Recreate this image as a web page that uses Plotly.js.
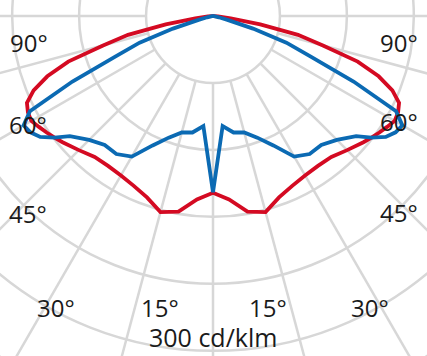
<!DOCTYPE html>
<html><head><meta charset="utf-8">
<script src="https://cdn.plot.ly/plotly-3.0.1.min.js"></script>
<style>
html,body{margin:0;padding:0;overflow:hidden;width:427px;height:356px;background:#fff}
#wrap{position:relative;width:427px;height:356px;overflow:hidden}
#plot{position:absolute;left:-211px;top:-408px;width:848px;height:848px}
</style></head><body><div id="wrap"><div id="plot"></div></div>
<script>
// angles in degrees from nadir (negative = left half)
const angles = [-90,-87.5,-85,-82.5,-80,-77.5,-75,-72.5,-70,-67.5,-65,-62.5,-60,-57.5,-55,-52.5,-50,-45,-40,-35,-30,-25,-20,-15,-10,-5,
  0,5,10,15,20,25,30,35,40,45,50,52.5,55,57.5,60,62.5,65,67.5,70,72.5,75,77.5,80,82.5,85,87.5,90];
// intensity, cd/klm
const redValues = [0,1,4.5,16,43,78,102,136,158,174,184,187,188,185,182,179,176,170,165,164,165,168,173,182,178,165,
  158.5,165,178,182,173,168,165,164,165,170,176,179,182,185,188,187,184,174,158,136,102,78,43,16,4.5,1,0];
const blueValues = [0,0.2,0.5,1,1.8,5.4,13.4,37.6,70,94,139,185,196,194,189,179,167.5,157,151,151,145.5,128,116,108,106,99,
  158,99,106,108,116,128,145.5,151,151,157,167.5,179,189,194,196,185,139,94,70,37.6,13.4,5.4,1.8,1,0.5,0.2,0];
const ringValues = [60,120,180,240,300,360];
const spokeAngles = [-90,-75,-60,-45,-30,-15,0,15,30,45,60,75,90];
const angleLabels = ['90°','60°','45°','30°','15°'];
const scaleLabel = '300 cd/klm';

const R_MAX = 380;
const gridColor = '#d7d7d7';

// spokes start at the first ring
const spokeR = [], spokeT = [];
spokeAngles.forEach(a => { spokeR.push(ringValues[0], R_MAX, null); spokeT.push(a, a, null); });

const traces = [
  {type:'scatterpolar', mode:'lines', r:spokeR, theta:spokeT, line:{color:gridColor, width:2.5}, hoverinfo:'skip', connectgaps:false},
  {type:'scatterpolar', mode:'lines', r:redValues, theta:angles, line:{color:'#d40a22', width:3.8}},
  {type:'scatterpolar', mode:'lines', r:blueValues, theta:angles, line:{color:'#0b6ab3', width:3.8}}
];

// label placement helpers (viewport pixels -> paper of the enlarged plot)
const OFFX = 211, OFFY = 408, SIZE = 848;
function ann(text, vx, vy, size){
  return {text:text, x:(vx+OFFX)/SIZE, y:1-(vy+OFFY)/SIZE, xref:'paper', yref:'paper',
    xanchor:'center', yanchor:'middle', showarrow:false,
    font:{family:'Open Sans, sans-serif', size:size || 24, color:'#1a1a1a'}};
}
const annotations = [
  ann(angleLabels[0], 29, 42), ann(angleLabels[0], 399, 42),
  ann(angleLabels[1], 28, 124), ann(angleLabels[1], 399, 121),
  ann(angleLabels[2], 28, 213), ann(angleLabels[2], 399, 212),
  ann(angleLabels[3], 56, 307), ann(angleLabels[3], 370, 307),
  ann(angleLabels[4], 160, 307), ann(angleLabels[4], 268, 307),
  ann(scaleLabel, 213, 337, 25)
];

const layout = {
  width:SIZE, height:SIZE, margin:{l:0,r:0,t:0,b:0,pad:0},
  paper_bgcolor:'#fff', showlegend:false,
  polar:{
    domain:{x:[0,1], y:[0,1]}, bgcolor:'#fff',
    radialaxis:{range:[0,R_MAX], tickvals:ringValues, showticklabels:false, ticks:'', showline:false,
      gridcolor:gridColor, gridwidth:2.5},
    angularaxis:{rotation:-90, direction:'counterclockwise', showgrid:false, showline:false,
      showticklabels:false, ticks:''}
  },
  annotations:annotations
};
Plotly.newPlot('plot', traces, layout, {staticPlot:true, displayModeBar:false});
</script></body></html>
